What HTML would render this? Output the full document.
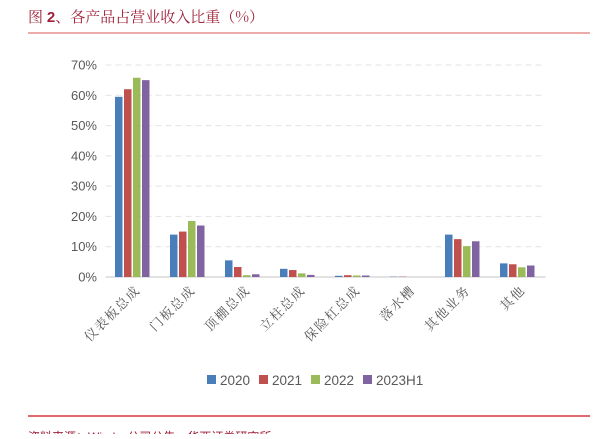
<!DOCTYPE html>
<html><head><meta charset="utf-8"><style>
body{margin:0;background:#fff;width:603px;height:434px;overflow:hidden;font-family:"Liberation Sans","Noto Sans CJK SC",sans-serif}
</style></head><body>
<svg width="603" height="434" xmlns="http://www.w3.org/2000/svg">
<text x="28" y="22" font-size="15" fill="#a0213a" font-family="Noto Serif CJK SC, serif">图 <tspan font-weight="bold" font-family="Liberation Sans">2</tspan>、各产品占营业收入比重（%）</text>
<line x1="28" y1="33" x2="590" y2="33" stroke="#e88f8f" stroke-width="1.5"/>
<line x1="28" y1="416" x2="590" y2="416" stroke="#d9383e" stroke-width="1.5"/>
<text x="28" y="441" font-size="12" fill="#a0213a">资料来源：Wind，公司公告，华西证券研究所</text>
<g id="grid"></g><g id="bars"></g><g id="xl"></g><g id="legend"></g>
</svg>
<script>
const categories=["仪表板总成","门板总成","顶棚总成","立柱总成","保险杠总成","落水槽","其他业务","其他"];
const seriesNames=["2020","2021","2022","2023H1"];
const s2020=[59.5,14,5.5,2.7,0.4,0.1,14,4.5];
const s2021=[62,15,3.3,2.3,0.6,0.1,12.5,4.2];
const s2022=[65.8,18.5,0.6,1.2,0.5,0,10.2,3.2];
const s2023=[65,17,0.9,0.7,0.5,0,11.8,3.8];
const yTicks=[0,10,20,30,40,50,60,70];
const colors=["#4a7ebb","#c0504d","#9bbb59","#8064a2"];
const series=[s2020,s2021,s2022,s2023];
const NS="http://www.w3.org/2000/svg";
const x0=105.5,x1=545.5,y0=277,yTop=65;
const y=v=>y0-(v/70)*(y0-yTop);
const band=(x1-x0)/categories.length;
function mk(t,a,p){const e=document.createElementNS(NS,t);for(const k in a)e.setAttribute(k,a[k]);p.appendChild(e);return e;}
const g=document.getElementById('grid');
yTicks.forEach(t=>{
  if(t>0){const l=mk('line',{x1:x0,x2:x1,y1:y(t),y2:y(t),stroke:'#e3e3e3','stroke-dasharray':'6,4'},g);
  
  }
  const tx=mk('text',{x:97,y:y(t)+4.5,'text-anchor':'end','font-size':13,fill:'#595959'},g);
  tx.textContent=t+'%';
  
  
});
const ax=mk('line',{x1:x0,x2:x1,y1:y0,y2:y0,stroke:'#d9d9d9','stroke-width':1.5},g);


const b=document.getElementById('bars');
categories.forEach((c,i)=>{
  const cx=x0+band*(i+0.5);
  series.forEach((s,j)=>{
    const bx=cx-18+j*9;
    const r=mk('rect',{x:bx,y:y(s[i]),width:7.5,height:y0-y(s[i]),fill:colors[j]},b);
    
    
  });
  const t=mk('text',{transform:`translate(${cx+8},${y0+14}) rotate(-45)`,'text-anchor':'end','font-size':13,'letter-spacing':1.5,fill:'#595959','font-family':'Noto Serif CJK SC, serif'},document.getElementById('xl'));
  t.textContent=c;
  
  
});
const L=document.getElementById('legend');
let lx=207;
seriesNames.forEach((n,j)=>{
  const gg=mk('g',{},L);
  
  
  mk('rect',{x:lx,y:375,width:9,height:9,fill:colors[j]},gg);
  const t=mk('text',{x:lx+13,y:385,'font-size':13.5,fill:'#595959'},gg);
  t.textContent=n;
  lx+=13+(n.length*7.5)+9;
});
</script>
</body></html>
